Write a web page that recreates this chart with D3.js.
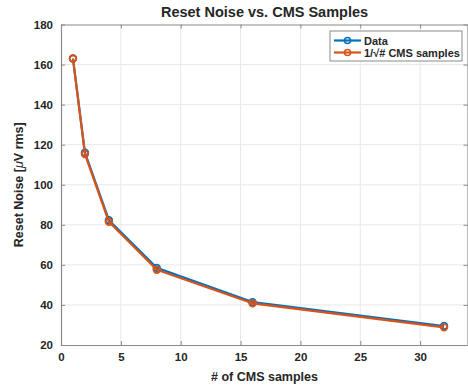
<!DOCTYPE html>
<html>
<head>
<meta charset="utf-8">
<script src="https://cdn.jsdelivr.net/npm/d3@7"></script>
<style>
  html, body { margin: 0; padding: 0; background: #fff; }
  svg { display: block; }
  text { font-family: "Liberation Sans", Arial, Helvetica, sans-serif; fill: #262626; }
</style>
</head>
<body>
<svg id="chart" width="468" height="387"></svg>
<script>
// Number of CMS samples per read
const samples = [1, 2, 4, 8, 16, 32];
// Measured reset noise (µV rms)
const measured = [163, 116, 82.3, 58.5, 41.4, 29.5];
// Expected 1/sqrt(N) scaling from the single-sample value
const expected = [163, 115.3, 81.5, 57.6, 40.8, 28.8];

const xTicks = [0, 5, 10, 15, 20, 25, 30];
const yTicks = [20, 40, 60, 80, 100, 120, 140, 160, 180];

const seriesNames = ["Data", "1/\u221A# CMS samples"];
const seriesColors = ["#0072BD", "#D95319"];

const margin = { left: 61, top: 24.5, right: 468, bottom: 345 };

const svg = d3.select("#chart");

const x = d3.scaleLinear().domain([0, 34]).range([margin.left, margin.right]);
const y = d3.scaleLinear().domain([20, 180]).range([margin.bottom, margin.top]);

// grid
const grid = svg.append("g");
grid.selectAll("line.gx").data(xTicks.filter(d => d > 0)).join("line")
  .attr("x1", d => x(d)).attr("x2", d => x(d))
  .attr("y1", margin.top).attr("y2", margin.bottom)
  .attr("stroke", "#e8e8e8").attr("stroke-width", 1);
grid.selectAll("line.gy").data(yTicks.filter(d => d > 20 && d < 180)).join("line")
  .attr("x1", margin.left).attr("x2", margin.right)
  .attr("y1", d => y(d)).attr("y2", d => y(d))
  .attr("stroke", "#e8e8e8").attr("stroke-width", 1);

// axes
const tickLen = 4;
const axisColor = "#8a8a8a";
const fmt = d3.format("d");

const xAxis = svg.append("g").attr("transform", `translate(0,${margin.bottom})`)
  .call(d3.axisBottom(x).tickValues(xTicks).tickFormat(fmt).tickSizeInner(-tickLen).tickSizeOuter(0).tickPadding(8));
const xTop = svg.append("g").attr("transform", `translate(0,${margin.top})`)
  .call(d3.axisTop(x).tickValues(xTicks).tickFormat("").tickSizeInner(-tickLen).tickSizeOuter(0));
const yAxis = svg.append("g").attr("transform", `translate(${margin.left},0)`)
  .call(d3.axisLeft(y).tickValues(yTicks).tickFormat(fmt).tickSizeInner(-tickLen).tickSizeOuter(0).tickPadding(8));
const yRight = svg.append("g").attr("transform", `translate(${margin.right - 0.5},0)`)
  .call(d3.axisRight(y).tickValues(yTicks).tickFormat("").tickSizeInner(-tickLen).tickSizeOuter(0));

[xAxis, xTop, yAxis, yRight].forEach(g => {
  g.select(".domain").attr("stroke", axisColor).attr("stroke-width", 1.2);
  g.selectAll(".tick line").attr("stroke", axisColor);
  g.selectAll(".tick text")
    .attr("font-family", "Liberation Sans, Arial, sans-serif")
    .attr("font-size", 11.5).attr("font-weight", "bold").attr("fill", "#262626");
});

// series: lines with hollow circle markers
const line = d3.line().x(d => x(d[0])).y(d => y(d[1]));
const seriesData = [measured, expected];
seriesData.forEach((vals, i) => {
  const pts = samples.map((s, j) => [s, vals[j]]);
  const g = svg.append("g");
  g.append("path").datum(pts)
    .attr("d", line).attr("fill", "none")
    .attr("stroke", seriesColors[i]).attr("stroke-width", 2.2)
    .attr("stroke-linejoin", "round");
  g.selectAll("circle").data(pts).join("circle")
    .attr("cx", d => x(d[0])).attr("cy", d => y(d[1])).attr("r", 3.3)
    .attr("fill", "none")
    .attr("stroke", seriesColors[i]).attr("stroke-width", 1.8);
});

// title and labels
svg.append("text").attr("x", (margin.left + margin.right) / 2).attr("y", 17)
  .attr("text-anchor", "middle").attr("font-size", 14.5).attr("font-weight", "bold")
  .attr("fill", "#000").text("Reset Noise vs. CMS Samples");

svg.append("text").attr("x", (margin.left + margin.right) / 2).attr("y", 381)
  .attr("text-anchor", "middle").attr("font-size", 12.5).attr("font-weight", "bold")
  .text("# of CMS samples");

const yl = svg.append("text")
  .attr("transform", `translate(23,${(margin.top + margin.bottom) / 2}) rotate(-90)`)
  .attr("text-anchor", "middle").attr("font-size", 12.5).attr("font-weight", "bold");
yl.append("tspan").text("Reset Noise [");
yl.append("tspan").attr("font-style", "italic").attr("font-weight", "normal").text("\u03BC");
yl.append("tspan").text("V rms]");

// legend
const lg = svg.append("g").attr("transform", "translate(330,31)");
lg.append("rect").attr("x", 0).attr("y", 0).attr("width", 132).attr("height", 30)
  .attr("fill", "#fff").attr("stroke", "#8a8a8a").attr("stroke-width", 1);
seriesNames.forEach((name, i) => {
  const cy = 9.5 + i * 12;
  lg.append("line").attr("x1", 4).attr("x2", 31).attr("y1", cy).attr("y2", cy)
    .attr("stroke", seriesColors[i]).attr("stroke-width", 2.2);
  lg.append("circle").attr("cx", 17.5).attr("cy", cy).attr("r", 3)
    .attr("fill", "none").attr("stroke", seriesColors[i]).attr("stroke-width", 1.6);
  lg.append("text").attr("x", 34).attr("y", cy + 4)
    .attr("font-size", 11).attr("font-weight", "bold").attr("fill", "#000").text(name);
});
</script>
</body>
</html>
